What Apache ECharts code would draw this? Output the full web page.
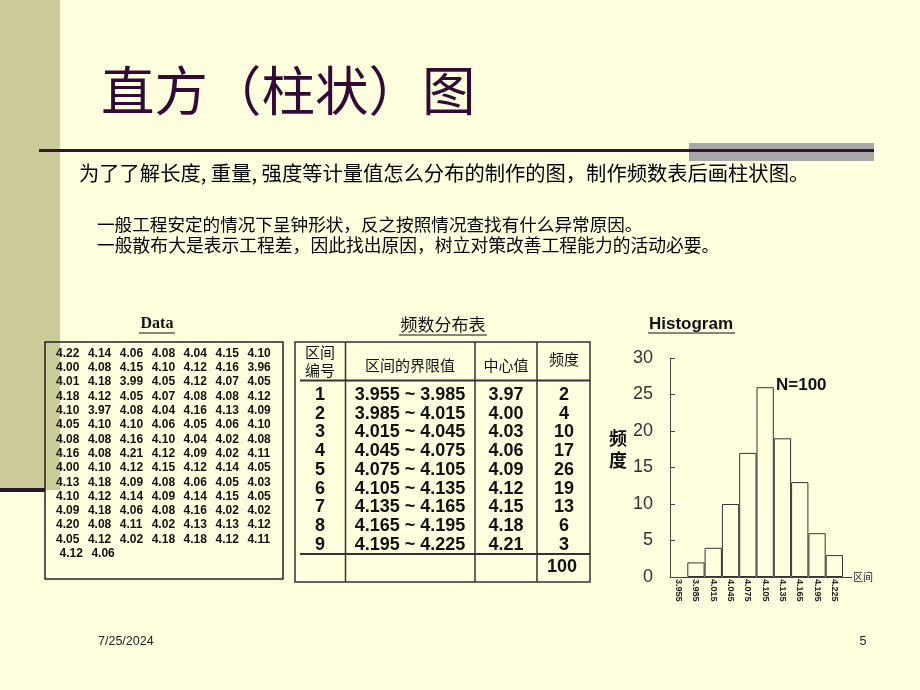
<!DOCTYPE html>
<html><head><meta charset="utf-8">
<script src="https://cdn.jsdelivr.net/npm/echarts@6/dist/echarts.min.js"></script>
<style>html,body{margin:0;padding:0;background:#FFFFE0;} #c{width:920px;height:690px;}</style>
</head><body><div id="c"></div>
<script>
// ---------- text ----------
const titleText = '直方（柱状）图';
const subtitleText = '为了了解长度, 重量, 强度等计量值怎么分布的制作的图，制作频数表后画柱状图。';
const noteLines = [
  '一般工程安定的情况下呈钟形状，反之按照情况查找有什么异常原因。',
  '一般散布大是表示工程差，因此找出原因，树立对策改善工程能力的活动必要。'
];
const footerDate = '7/25/2024';
const footerPage = '5';

// ---------- raw data (100 measurements) ----------
const rawData = [
  '4.22','4.14','4.06','4.08','4.04','4.15','4.10',
  '4.00','4.08','4.15','4.10','4.12','4.16','3.96',
  '4.01','4.18','3.99','4.05','4.12','4.07','4.05',
  '4.18','4.12','4.05','4.07','4.08','4.08','4.12',
  '4.10','3.97','4.08','4.04','4.16','4.13','4.09',
  '4.05','4.10','4.10','4.06','4.05','4.06','4.10',
  '4.08','4.08','4.16','4.10','4.04','4.02','4.08',
  '4.16','4.08','4.21','4.12','4.09','4.02','4.11',
  '4.00','4.10','4.12','4.15','4.12','4.14','4.05',
  '4.13','4.18','4.09','4.08','4.06','4.05','4.03',
  '4.10','4.12','4.14','4.09','4.14','4.15','4.05',
  '4.09','4.18','4.06','4.08','4.16','4.02','4.02',
  '4.20','4.08','4.11','4.02','4.13','4.13','4.12',
  '4.05','4.12','4.02','4.18','4.18','4.12','4.11',
  '4.12','4.06'
];

// ---------- frequency table ----------
const freqHeaders = ['区间\n编号', '区间的界限值', '中心值', '频度'];
const binNo = ['1','2','3','4','5','6','7','8','9'];
const binRanges = ['3.955 ~ 3.985','3.985 ~ 4.015','4.015 ~ 4.045','4.045 ~ 4.075','4.075 ~ 4.105',
                   '4.105 ~ 4.135','4.135 ~ 4.165','4.165 ~ 4.195','4.195 ~ 4.225'];
const binCenters = ['3.97','4.00','4.03','4.06','4.09','4.12','4.15','4.18','4.21'];
const binFreqs = [2, 4, 10, 17, 26, 19, 13, 6, 3];
const freqTotal = '100';

// ---------- histogram ----------
const histLabels = ['3.955','3.985','4.015','4.045','4.075','4.105','4.135','4.165','4.195','4.225'];
const histValues = ['-', 2, 4, 10, 17, 26, 19, 13, 6, 3];
const histYMin = 0, histYMax = 30, histYStep = 5;

// ---------- build ----------
const CJK = '"Noto Sans CJK SC", sans-serif';
const SANS = '"Liberation Sans", Arial, sans-serif';
const SERIF = '"Liberation Serif", "Times New Roman", serif';
const ink = '#111';
const g = [];

function txt(x, y, text, size, opts) {
  opts = opts || {};
  g.push({type:'text', x:x, y:y, silent:true, z: opts.z || 10, style:{
    text:text, fontSize:size, fontFamily: opts.font || CJK, fontWeight: opts.weight || 'normal',
    fill: opts.color || ink, align: opts.align || 'left', verticalAlign: opts.valign || 'middle',
    lineHeight: opts.lh
  }});
}
function line(x1, y1, x2, y2, w, color, z) {
  g.push({type:'line', silent:true, z: z || 5, shape:{x1:x1,y1:y1,x2:x2,y2:y2}, style:{stroke: color || '#222', lineWidth: w}});
}
function rect(x, y, w, h, fill, stroke, lw, z) {
  g.push({type:'rect', silent:true, z: z || 1, shape:{x:x,y:y,width:w,height:h},
    style:{fill: fill || 'none', stroke: stroke || null, lineWidth: lw || 0}});
}

// slide decoration
rect(0, 0, 60, 490, '#CCCC9A', null, 0, 1);
line(0, 490, 45, 490, 4, '#2B172B', 6);
rect(689, 143, 185, 18, '#A8A8A8', null, 0, 2);
line(39, 150.5, 874, 150.5, 3, '#2E1A2E', 4);

// title + text
txt(101, 91, titleText, 53.5, {color:'#330A33'});
txt(79, 173, subtitleText, 20.3, {color:'#000'});
txt(97, 224, noteLines[0], 17.6, {color:'#000'});
txt(97, 245, noteLines[1], 17.8, {color:'#000'});

// Data block
txt(157, 324, 'Data', 16, {font:SERIF, weight:'bold', align:'center'});
line(139, 333, 175, 333, 1.2, '#111');
rect(45, 342, 238, 237, 'none', '#222', 1.5, 3);
rawData.forEach(function (v, i) {
  const r = Math.floor(i / 7), c = i % 7;
  const extra = r === 14 ? 3.5 : 0;
  txt(56 + c * 31.9 + extra, 353.5 + r * 14.3, v, 12, {font:SANS, weight:'bold'});
});

// Frequency table
txt(443, 325, '频数分布表', 17, {align:'center'});
line(399, 335, 487, 335, 1.2, '#111');
rect(295, 342, 295, 240, 'none', '#333', 1.5, 3);
[345.5, 475, 537].forEach(function (x) { line(x, 342, x, 582, 1.5, '#333'); });
line(300, 380.5, 590, 380.5, 2, '#333');
line(300, 554, 590, 554, 2, '#333');
txt(320, 361, freqHeaders[0], 15, {align:'center', lh:18});
txt(410, 365, freqHeaders[1], 15, {align:'center'});
txt(506, 365, freqHeaders[2], 15, {align:'center'});
txt(564, 359, freqHeaders[3], 15, {align:'center'});
for (let i = 0; i < binNo.length; i++) {
  const y = 395 + i * 18.75;
  txt(320, y, binNo[i], 18, {font:SANS, weight:'bold', align:'center'});
  txt(410, y, binRanges[i], 18, {font:SANS, weight:'bold', align:'center'});
  txt(506, y, binCenters[i], 18, {font:SANS, weight:'bold', align:'center'});
  txt(564, y, String(binFreqs[i]), 18, {font:SANS, weight:'bold', align:'center'});
}
txt(562, 567.5, freqTotal, 18, {font:SANS, weight:'bold', align:'center'});

// Histogram annotations
txt(691, 324, 'Histogram', 17, {font:SANS, weight:'bold', align:'center'});
line(648, 333, 735, 333, 1.2, '#111');
txt(618, 449, '频\n度', 18, {weight:'bold', align:'center', lh:22});
txt(776, 385, 'N=100', 17, {font:SANS, weight:'bold'});
line(843, 577.5, 852, 577.5, 1, '#444');

// footer
txt(98, 642, footerDate, 12.5, {font:SANS, color:'#222'});
txt(863, 642, footerPage, 12.5, {font:SANS, color:'#222', align:'center'});

const chart = echarts.init(document.getElementById('c'), null, {renderer:'canvas'});
chart.setOption({
  backgroundColor: '#FFFFE0',
  animation: false,
  grid: {left: 670, top: 358, width: 173, height: 219, containLabel: false},
  xAxis: {
    type: 'category', data: histLabels, boundaryGap: true,
    axisLine: {show: true, lineStyle: {color: '#444', width: 1}},
    axisTick: {show: false},
    axisLabel: {rotate: -90, interval: 0, fontSize: 9, fontWeight: 'bold', color: '#222', margin: 2, fontFamily: SANS},
    name: '区间', nameLocation: 'end', nameGap: 10,
    nameTextStyle: {fontSize: 10, color: '#222', fontFamily: CJK, verticalAlign: 'middle'}
  },
  yAxis: {
    type: 'value', min: histYMin, max: histYMax, interval: histYStep,
    axisLine: {show: true, lineStyle: {color: '#444', width: 1}},
    axisTick: {show: true, inside: true, length: 5, lineStyle: {color: '#444'}},
    splitLine: {show: false},
    axisLabel: {fontSize: 18, color: '#333', margin: 17, fontFamily: SANS}
  },
  series: [{
    type: 'bar', data: histValues, barCategoryGap: '0%',
    itemStyle: {color: 'rgba(0,0,0,0)', borderColor: '#333', borderWidth: 1}
  }],
  graphic: g
});
</script>
</body></html>
